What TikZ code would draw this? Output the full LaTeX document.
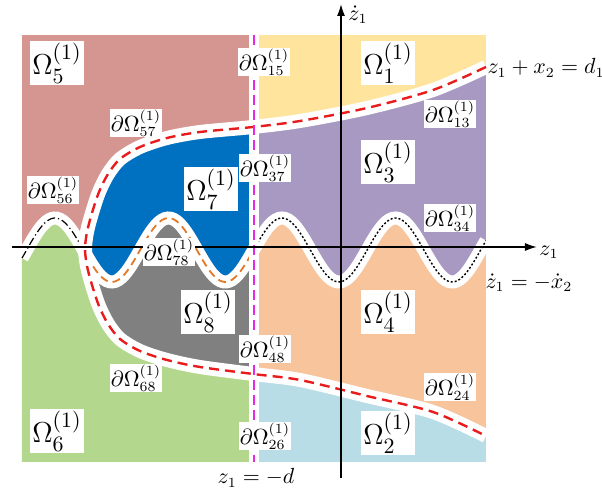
\documentclass[tikz,border=0pt]{standalone}
\usepackage{amsmath,amssymb}
\usepackage{xcolor}
\usepackage{tikz}
\usetikzlibrary{arrows.meta}

\definecolor{cone}{RGB}{254,228,156}
\definecolor{ctwo}{RGB}{184,221,231}
\definecolor{cthree}{RGB}{168,153,194}
\definecolor{cfour}{RGB}{247,196,156}
\definecolor{cfive}{RGB}{213,149,145}
\definecolor{csix}{RGB}{180,215,142}
\definecolor{cseven}{RGB}{0,112,192}
\definecolor{ceight}{RGB}{128,128,128}
\definecolor{corange}{RGB}{228,120,36}
\definecolor{cred}{RGB}{232,28,28}
\definecolor{cmag}{RGB}{230,40,230}

\def\wave{plot[domain=22:486,samples=160] (\x,{250-32*cos(3.1718*(\x-55))})}
\def\redc{plot[smooth] coordinates {(486,67) (433,90) (367,108) (300,121) (253,127) (200,132) (167,138) (140,147) (120,159) (108,174) (99,192) (92,213) (87,232) (85,249) (87,266) (92,285) (99,306) (108,324) (120,339) (140,351) (167,360) (200,367) (253,374) (300,380) (367,396) (433,412) (486,436)}}
\def\redlow{plot[smooth] coordinates {(85,249) (87,266) (92,285) (99,306) (108,324) (120,339) (140,351) (167,360) (200,367) (253,374) (300,380) (367,396) (433,412) (486,436)}}

\begin{document}
\begin{tikzpicture}[
x=0.5pt,y=-0.5pt,
axis/.style={line width=0.8pt, -{Latex[length=6pt,width=4pt]}},
gap/.style={white, line width=7pt},
bigl/.style={fill=white, inner sep=1pt, font=\fontsize{15}{17}\selectfont},
bndl/.style={fill=white, inner sep=0.6pt, font=\fontsize{10.5}{12}\selectfont},
eql/.style={inner sep=1pt, font=\fontsize{10.5}{12}\selectfont}
]
\useasboundingbox (0,0) rectangle (602,490);

\begin{scope}
\clip (22,35) rectangle (249,462);
\fill[cfive] (22,35) rectangle (249,462);
\fill[csix] \wave -- (486,470) -- (22,470) -- cycle;
\fill[cseven] \redc -- cycle;
\clip \redc -- cycle;
\fill[ceight] \wave -- (486,470) -- (22,470) -- cycle;
\end{scope}

\begin{scope}
\clip (259,35) rectangle (486,462);
\fill[cone] (259,35) rectangle (486,462);
\fill[cthree] \redc -- cycle;
\begin{scope}
\clip \redc -- cycle;
\fill[cfour] \wave -- (486,470) -- (22,470) -- cycle;
\end{scope}
\fill[ctwo] \redlow -- (500,436) -- (500,470) -- (82,470) -- cycle;
\end{scope}

\begin{scope}
\clip (22,0) rectangle (486,490);
\draw[gap, line width=6.5pt] \wave;
\draw[gap] \redc;
\end{scope}
\fill[white] (249,35) rectangle (259,462);

\begin{scope}
\clip (0,0) rectangle (79,490);
\draw[line width=0.6pt, dash pattern=on 4pt off 1.5pt on 0.6pt off 1.5pt] \wave;
\end{scope}
\begin{scope}
\clip (92,0) rectangle (249,490);
\draw[corange, line width=0.9pt, dash pattern=on 4pt off 2.5pt] \wave;
\end{scope}
\begin{scope}
\clip (259,0) rectangle (486,490);
\draw[line width=0.7pt, dash pattern=on 1pt off 1pt] \wave;
\end{scope}
\draw[cred, line width=1.2pt, dash pattern=on 5pt off 3pt] \redc;

\coordinate (dtop) at (254,35);
\coordinate (dbot) at (254,462);
\draw[cmag, line width=1pt, dash pattern=on 5pt off 2.5pt] (dtop) -- (dbot);

\coordinate (hstart) at (12,247);
\coordinate (hend) at (537,247);
\coordinate (vstart) at (341,478);
\coordinate (vend) at (341,4);
\draw[axis] (hstart) -- (hend);
\draw[axis] (vstart) -- (vend);

\node[bigl] (omfive) at (57,63) {$\Omega_5^{(1)}$};
\node[bigl] (omone) at (388,63) {$\Omega_1^{(1)}$};
\node[bigl] (omthree) at (388,162) {$\Omega_3^{(1)}$};
\node[bigl] (omseven) at (211,189) {$\Omega_7^{(1)}$};
\node[bigl] (omfour) at (388,312) {$\Omega_4^{(1)}$};
\node[bigl] (omeight) at (208,312) {$\Omega_8^{(1)}$};
\node[bigl] (omsix) at (57,431) {$\Omega_6^{(1)}$};
\node[bigl] (omtwo) at (388,433) {$\Omega_2^{(1)}$};

\node[bndl] (bfifteen) at (264,62) {$\partial\Omega_{15}^{(1)}$};
\node[bndl] (bfiftyseven) at (136,123) {$\partial\Omega_{57}^{(1)}$};
\node[bndl] (bthirtyseven) at (265,168) {$\partial\Omega_{37}^{(1)}$};
\node[bndl] (bfiftysix) at (53,190) {$\partial\Omega_{56}^{(1)}$};
\node[bndl] (bthirteen) at (450,114) {$\partial\Omega_{13}^{(1)}$};
\node[bndl] (bthirtyfour) at (450,218) {$\partial\Omega_{34}^{(1)}$};
\node[bndl] (bseventyeight) at (169,252) {$\partial\Omega_{78}^{(1)}$};
\node[bndl] (bfortyeight) at (265,349) {$\partial\Omega_{48}^{(1)}$};
\node[bndl] (bsixtyeight) at (136,378) {$\partial\Omega_{68}^{(1)}$};
\node[bndl] (btwentyfour) at (450,387) {$\partial\Omega_{24}^{(1)}$};
\node[bndl] (btwentysix) at (265,436) {$\partial\Omega_{26}^{(1)}$};

\node[eql] (dline) at (546,68) {$z_1+x_2=d_1$};
\node[eql] (sline) at (529,283) {$\dot z_1=-\dot x_2$};
\node[eql] (dvert) at (256,478) {$z_1=-d$};
\node[eql] (zlab) at (549,252) {$z_1$};
\node[eql] (zdlab) at (358,15) {$\dot z_1$};
\end{tikzpicture}
\end{document}
